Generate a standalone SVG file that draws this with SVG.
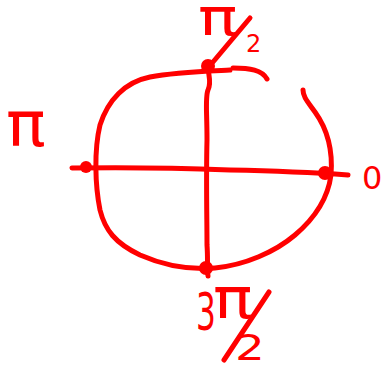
<svg xmlns="http://www.w3.org/2000/svg" width="387" height="365" viewBox="0 0 387 365">
<style>
.s{fill:none;stroke:#ff0000;stroke-width:5;stroke-linecap:round;stroke-linejoin:round}
.d{fill:#ff0000}
.t{fill:#ff0000;font-family:"DejaVu Sans",sans-serif}
</style>
<rect width="387" height="365" fill="#ffffff"/>
<g id="circle">
<path class="s" d="M230,70 C210,71 175,72 150,77 C125,82 108,100 100,125 C94,150 95,185 100,210 C105,230 115,243 140,255 C165,266 190,270 215,268 C245,265 275,252 295,235 C315,218 328,198 331,175 C333,150 328,130 315,112 C308,102 303,97 303,90"/>
<path class="s" d="M233,68 C250,68 262,70 267,79"/>
</g>
<g id="axes">
<path class="s" d="M72,168 C130,167 180,168 230,170 C280,171 320,173 348,175"/>
<path class="s" d="M208,66 C208,75 212,82 208,90 C205,97 207,110 207,140 C206,180 207,220 207,245 C208,258 207,268 208,276"/>
</g>
<g id="node-top">
<circle class="d" cx="208" cy="66" r="7"/>
<text class="t" font-size="60" transform="translate(198,35) scale(1.1,0.85)">π</text>
<path class="s" d="M213,62 L250,18"/>
<text class="t" font-size="24" x="246" y="52">2</text>
</g>
<g id="node-left">
<circle class="d" cx="86" cy="167" r="6"/>
<text class="t" font-size="60" transform="translate(6,146) scale(1.1,1.05)">π</text>
</g>
<g id="node-right">
<circle class="d" cx="325" cy="173" r="7"/>
<text class="t" font-size="32" x="362" y="189">0</text>
</g>
<g id="node-bottom">
<circle class="d" cx="206" cy="268" r="7"/>
<text class="t" font-size="52" transform="translate(196,330) scale(0.6,1)">3</text>
<text class="t" font-size="60" transform="translate(213,318) scale(1.1,0.95)">π</text>
<path class="s" d="M224,360 L269,292"/>
<text class="t" font-size="36" transform="translate(235,360) scale(1.3,1)">2</text>
</g>
</svg>
